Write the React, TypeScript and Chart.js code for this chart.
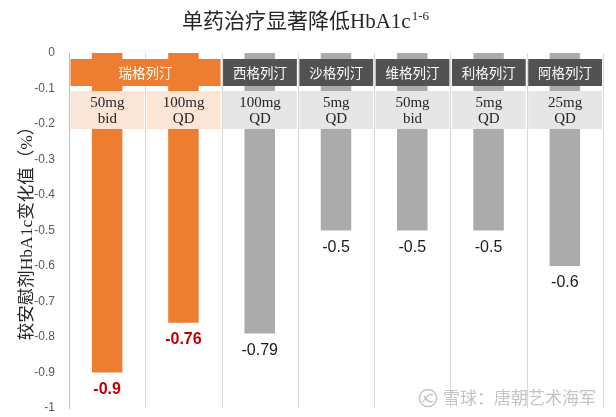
import React, { useEffect, useRef } from 'react';
import { Chart, registerables } from 'chart.js';

Chart.register(...registerables);

// ---- data ----
const drugs = ['瑞格列汀', '瑞格列汀', '西格列汀', '沙格列汀', '维格列汀', '利格列汀', '阿格列汀'];
const doses = ['50mg', '100mg', '100mg', '5mg', '50mg', '5mg', '25mg'];
const freqs = ['bid', 'QD', 'QD', 'QD', 'bid', 'QD', 'QD'];
const values = [-0.9, -0.76, -0.79, -0.5, -0.5, -0.5, -0.6];
const highlighted = [true, true, false, false, false, false, false];
const yTicks = [-1, -0.9, -0.8, -0.7, -0.6, -0.5, -0.4, -0.3, -0.2, -0.1, 0];
const yTickLabels = ['-1', '-0.9', '-0.8', '-0.7', '-0.6', '-0.5', '-0.4', '-0.3', '-0.2', '-0.1', '0'];
const titleMain = '单药治疗显著降低HbA1c';
const titleSup = '1-6';
const yTitle = '较安慰剂HbA1c变化值（%）';
const watermark = '雪球：唐朝艺术海军';

// ---- style ----
const ORANGE = '#ED7D31';
const GREY = '#ABABAB';
const DARK = '#525252';
const LIGHT_ORANGE = '#FBE5D6';
const LIGHT_GREY = '#E6E6E6';
const SERIF = '"Liberation Serif", "Noto Sans CJK SC", serif';
const SANS = '"Liberation Sans", Arial, sans-serif';
const CJK = '"Noto Sans CJK SC", sans-serif';

const gridPlugin = {
  id: 'catGrid',
  beforeDatasetsDraw(chart: any) {
    const { ctx, chartArea, scales } = chart;
    const x = scales.x;
    const cw = x.getPixelForValue(1) - x.getPixelForValue(0);
    ctx.save();
    ctx.strokeStyle = '#D9D9D9';
    ctx.lineWidth = 1;
    for (let i = 1; i <= drugs.length; i++) {
      const px = Math.round(x.getPixelForValue(i) - cw / 2) + 0.5;
      ctx.beginPath();
      ctx.moveTo(px, chartArea.top);
      ctx.lineTo(px, chartArea.bottom);
      ctx.stroke();
    }
    ctx.restore();
  },
};

const overlayPlugin = {
  id: 'overlay',
  afterDatasetsDraw(chart: any) {
    const { ctx, chartArea, scales } = chart;
    const x = scales.x;
    const meta = chart.getDatasetMeta(0);
    ctx.save();
    // value labels
    ctx.textAlign = 'center';
    ctx.textBaseline = 'middle';
    meta.data.forEach((bar: any, i: number) => {
      ctx.font = (highlighted[i] ? 'bold ' : '') + '16px ' + SANS;
      ctx.fillStyle = highlighted[i] ? '#C00000' : '#1A1A1A';
      ctx.fillText(String(values[i]), bar.x, bar.y + 17);
    });

    const cw = x.getPixelForValue(1) - x.getPixelForValue(0);
    const edge = (i: number) => x.getPixelForValue(i) - cw / 2;
    const top = chartArea.top;

    // header row 1: drug names (merged groups)
    let i = 0;
    while (i < drugs.length) {
      let j = i;
      while (j + 1 < drugs.length && drugs[j + 1] === drugs[i]) j++;
      const l = edge(i) + 1.5;
      const r = edge(j + 1) - 1;
      ctx.fillStyle = highlighted[i] ? ORANGE : DARK;
      ctx.fillRect(l, top + 6, r - l, 27);
      ctx.fillStyle = '#FFFFFF';
      ctx.font = '13.5px ' + CJK;
      ctx.fillText(drugs[i], (l + r) / 2, top + 20);
      i = j + 1;
    }
    // header row 2: doses
    for (let k = 0; k < drugs.length; k++) {
      const l = edge(k) + 1.5;
      const r = edge(k + 1) - 1;
      ctx.fillStyle = highlighted[k] ? LIGHT_ORANGE : LIGHT_GREY;
      ctx.fillRect(l, top + 38, r - l, 38);
      ctx.fillStyle = '#262626';
      ctx.font = '15px ' + SERIF;
      ctx.fillText(doses[k], (l + r) / 2, top + 50);
      ctx.fillText(freqs[k], (l + r) / 2, top + 66);
    }

    // title
    ctx.fillStyle = '#262626';
    ctx.font = '21px ' + SERIF;
    const wMain = ctx.measureText(titleMain).width;
    ctx.font = '13px ' + SERIF;
    const wSup = ctx.measureText(titleSup).width;
    const startX = 305 - (wMain + wSup) / 2;
    ctx.textAlign = 'left';
    ctx.textBaseline = 'alphabetic';
    ctx.font = '21px ' + SERIF;
    ctx.fillText(titleMain, startX, 28);
    ctx.font = '13px ' + SERIF;
    ctx.fillText(titleSup, startX + wMain + 1, 20);

    // y title
    ctx.save();
    ctx.translate(27, 229);
    ctx.rotate(-Math.PI / 2);
    ctx.textAlign = 'center';
    ctx.textBaseline = 'middle';
    ctx.font = '17.5px ' + SERIF;
    ctx.fillStyle = '#262626';
    ctx.fillText(yTitle, 0, 0);
    ctx.restore();

    // watermark
    ctx.strokeStyle = '#C4C4C4';
    ctx.lineWidth = 1.5;
    ctx.beginPath();
    ctx.arc(428, 398, 8.5, 0, Math.PI * 2);
    ctx.stroke();
    ctx.beginPath();
    ctx.moveTo(423, 402);
    ctx.quadraticCurveTo(428, 392, 433, 395);
    ctx.moveTo(424, 396);
    ctx.quadraticCurveTo(429, 404, 433, 401);
    ctx.stroke();
    ctx.fillStyle = '#C4C4C4';
    ctx.font = '17px ' + CJK;
    ctx.textAlign = 'left';
    ctx.textBaseline = 'middle';
    ctx.fillText(watermark, 443, 398);
    ctx.restore();
  },
};

export default function App() {
  const ref = useRef<HTMLCanvasElement>(null);
  useEffect(() => {
    if (!ref.current) return;
    const chart = new Chart(ref.current, {
      type: 'bar',
      data: {
        labels: drugs.map((d, i) => d + ' ' + doses[i] + ' ' + freqs[i]),
        datasets: [
          {
            data: values,
            backgroundColor: highlighted.map((h) => (h ? ORANGE : GREY)),
            borderWidth: 0,
            categoryPercentage: 1,
            barPercentage: 0.4,
          },
        ],
      },
      options: {
        animation: false,
        responsive: false,
        maintainAspectRatio: false,
        layout: { padding: { left: 0, right: 13, top: 53, bottom: 9 } },
        plugins: { legend: { display: false }, title: { display: false }, tooltip: { enabled: false } },
        scales: {
          x: {
            display: false,
          },
          y: {
            min: -1,
            max: 0,
            grid: { display: false, drawTicks: false },
            border: { display: true, color: '#BFBFBF' },
            afterBuildTicks: (s: any) => {
              s.ticks = yTicks.map((v) => ({ value: v }));
            },
            ticks: {
              padding: 14,
              color: '#595959',
              font: { family: SANS, size: 12 },
              callback: (_v: any, idx: number) => yTickLabels[idx],
            },
            afterFit: (s: any) => {
              s.width = 69;
              s.paddingTop = 0;
              s.paddingBottom = 0;
            },
          },
        },
      },
      plugins: [gridPlugin, overlayPlugin],
    });
    return () => chart.destroy();
  }, []);
  return (
    <div style={{ position: 'fixed', left: 0, top: 0, width: 616, height: 417, background: '#fff' }}>
      <canvas ref={ref} width={616} height={417} style={{ width: 616, height: 417 }} />
    </div>
  );
}
